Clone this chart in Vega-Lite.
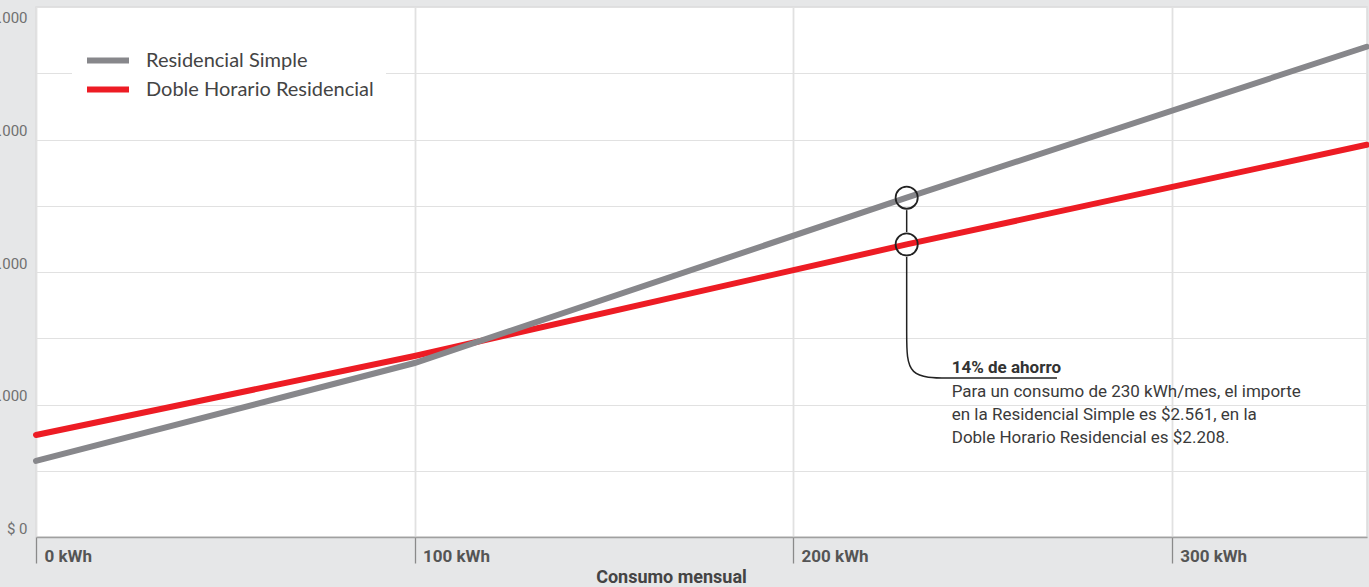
{
  "$schema": "https://vega.github.io/schema/vega-lite/v6.json",
  "width": 1331,
  "height": 530,
  "autosize": {"type": "none"},
  "padding": {"left": 36, "top": 7, "right": 2, "bottom": 50},
  "background": "#e6e7e8",
  "config": {"view": {"fill": "#ffffff", "stroke": "#dcdcdc", "strokeWidth": 1.5}},
  "encoding": {
    "x": {
      "field": "kwh", "type": "quantitative",
      "scale": {"domain": [0, 351.6], "nice": false, "zero": true},
      "axis": {
        "title": "Consumo mensual",
        "values": [0, 100, 200, 300],
        "labelExpr": "datum.value + ' kWh'",
        "grid": true, "gridColor": "#e1e1e1", "gridWidth": 1.8,
        "domain": true, "domainColor": "#a0a0a0", "domainWidth": 1.5,
        "ticks": true, "tickSize": 26, "tickColor": "#8a8a8a", "tickWidth": 1.3,
        "labelAlign": "left", "labelBaseline": "middle", "labelPadding": -7, "labelOffset": 8,
        "labelFlush": false, "labelOverlap": false, "labelBound": false,
        "labelFont": "Roboto", "labelFontWeight": "bold", "labelFontSize": 17, "labelColor": "#555555",
        "titleFont": "Roboto", "titleFontSize": 18, "titleFontWeight": "bold", "titleColor": "#444444",
        "titleAnchor": "middle", "titleX": 635, "titleY": 45, "titleBaseline": "alphabetic"
      }
    },
    "y": {
      "field": "importe", "type": "quantitative",
      "scale": {"domain": [0, 4000], "nice": false},
      "axis": {
        "title": null,
        "values": [0, 500, 1000, 1500, 2000, 2500, 3000, 3500, 4000],
        "labelExpr": "datum.value % 1000 == 0 ? '$ ' + replace(format(datum.value, ','), ',', '.') : ''",
        "grid": true, "gridColor": "#e1e1e1", "gridWidth": 1.2,
        "domain": false, "ticks": false,
        "labelPadding": 9, "labelOverlap": false, "labelBound": false, "labelFlush": false,
        "labelFont": "Roboto", "labelFontSize": 15, "labelColor": "#707070",
        "labelBaseline": "alphabetic",
        "labelOffset": {"condition": {"test": "datum.value == 4000", "value": 15}, "value": -4}
      }
    },
    "color": {
      "field": "tarifa", "type": "nominal",
      "scale": {"domain": ["Residencial Simple", "Doble Horario Residencial"], "range": ["#87878b", "#ed1c24"]},
      "legend": {
        "title": null, "orient": "none", "legendX": 36, "legendY": 27,
        "symbolType": "stroke", "symbolSize": 1764, "symbolStrokeWidth": 6,
        "labelFont": "Lato", "labelFontSize": 20, "labelColor": "#444444", "labelOffset": 14, "labelLimit": 400,
        "fillColor": "#ffffff", "padding": 12, "rowPadding": 0, "clipHeight": 29
      }
    }
  },
  "layer": [
    {
      "data": {"values": [
        {"tarifa": "Doble Horario Residencial", "kwh": 0, "importe": 770},
        {"tarifa": "Doble Horario Residencial", "kwh": 100, "importe": 1366},
        {"tarifa": "Doble Horario Residencial", "kwh": 230, "importe": 2208},
        {"tarifa": "Doble Horario Residencial", "kwh": 351.5, "importe": 2960}
      ]},
      "mark": {"type": "line", "strokeWidth": 6, "strokeCap": "round"}
    },
    {
      "data": {"values": [
        {"tarifa": "Residencial Simple", "kwh": 0, "importe": 574},
        {"tarifa": "Residencial Simple", "kwh": 100, "importe": 1313},
        {"tarifa": "Residencial Simple", "kwh": 230, "importe": 2561},
        {"tarifa": "Residencial Simple", "kwh": 351.5, "importe": 3700}
      ]},
      "mark": {"type": "line", "strokeWidth": 6, "strokeCap": "round"}
    },
    {
      "data": {"values": [{"kwh": 230, "importe": 2467, "importe2": 2302}]},
      "mark": {"type": "rule", "color": "#222222", "strokeWidth": 1.5},
      "encoding": {"y2": {"field": "importe2"}, "color": {"value": "#222222"}}
    },
    {
      "data": {"values": [
        {"i": 0, "kwh": 230, "importe": 2114},
        {"i": 1, "kwh": 230, "importe": 1500},
        {"i": 2, "kwh": 230, "importe": 1200},
        {"i": 3, "kwh": 241, "importe": 1200},
        {"i": 4, "kwh": 252, "importe": 1200},
        {"i": 5, "kwh": 269.7, "importe": 1200}
      ]},
      "mark": {"type": "line", "interpolate": "basis", "strokeWidth": 1.5},
      "encoding": {"order": {"field": "i", "type": "quantitative"}, "color": {"value": "#222222"}}
    },
    {
      "data": {"values": [
        {"kwh": 230, "importe": 2561},
        {"kwh": 230, "importe": 2208}
      ]},
      "mark": {"type": "point", "shape": "circle", "filled": false, "size": 490, "strokeWidth": 1.8, "opacity": 1},
      "encoding": {"color": {"value": "#222222"}}
    },
    {
      "data": {"values": [{"kwh": 241.9, "importe": 1235, "texto": "14% de ahorro"}]},
      "mark": {"type": "text", "align": "left", "baseline": "alphabetic", "font": "Roboto", "fontWeight": "bold", "fontSize": 17},
      "encoding": {"text": {"field": "texto"}, "color": {"value": "#333333"}}
    },
    {
      "data": {"values": [{"kwh": 241.9, "importe": 1057, "texto": "Para un consumo de 230 kWh/mes, el importe\nen la Residencial Simple es $2.561, en la\nDoble Horario Residencial es $2.208."}]},
      "mark": {"type": "text", "align": "left", "baseline": "alphabetic", "lineBreak": "\n", "lineHeight": 23, "font": "Roboto", "fontSize": 17},
      "encoding": {"text": {"field": "texto"}, "color": {"value": "#3a3a3a"}}
    }
  ]
}
